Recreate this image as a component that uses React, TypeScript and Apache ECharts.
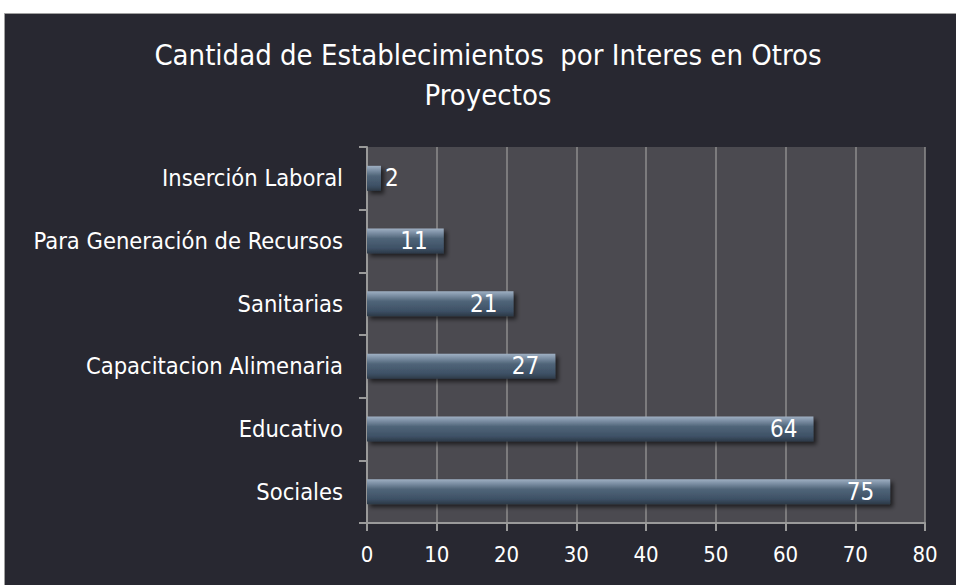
import React, { useEffect, useRef } from "react";
import * as echarts from "echarts";

const categories = [
  "Inserción Laboral",
  "Para Generación de Recursos",
  "Sanitarias",
  "Capacitacion Alimenaria",
  "Educativo",
  "Sociales",
];
const values = [2, 11, 21, 27, 64, 75];
const titleText = "Cantidad de Establecimientos  por Interes en Otros\nProyectos";

const FONT = "'Liberation Sans Narrow', 'DejaVu Sans Condensed', 'Roboto', sans-serif";

export default function App() {
  const ref = useRef<HTMLDivElement>(null);
  useEffect(() => {
    if (!ref.current) return;
    const chart = echarts.init(ref.current, null, { renderer: "svg" });
    const barColor = new echarts.graphic.LinearGradient(0, 0, 0, 1, [
      { offset: 0, color: "#9fb0c3" },
      { offset: 0.18, color: "#7b8ea3" },
      { offset: 0.4, color: "#506579" },
      { offset: 0.8, color: "#3d5065" },
      { offset: 1, color: "#2c3947" },
    ]);
    chart.setOption({
      animation: false,
      backgroundColor: "#ffffff",
      graphic: [
        {
          type: "rect",
          z: -10,
          shape: { x: 4.5, y: 13.5, width: 960, height: 580 },
          style: { fill: "#282831", stroke: "#a0a0a0", lineWidth: 1 },
        },
      ],
      title: {
        text: titleText,
        left: 483,
        textAlign: "center",
        top: 30,
        textStyle: {
          color: "#ffffff",
          fontFamily: FONT,
          fontSize: 29,
          fontWeight: "normal",
          lineHeight: 40,
        },
      },
      grid: {
        left: 367,
        right: 31,
        top: 147,
        bottom: 62,
        show: true,
        backgroundColor: "#4b4a50",
        borderWidth: 0,
      },
      xAxis: {
        type: "value",
        min: 0,
        max: 80,
        interval: 10,
        axisLine: { show: true, lineStyle: { color: "#9a9a9a", width: 2 } },
        axisTick: { show: true, length: 8, lineStyle: { color: "#9a9a9a", width: 2 } },
        splitLine: { show: true, lineStyle: { color: "#8c8c8c", width: 1.5 } },
        axisLabel: { color: "#ffffff", fontFamily: FONT, fontSize: 22, margin: 20 },
      },
      yAxis: {
        type: "category",
        data: categories,
        inverse: true,
        axisLine: { show: true, lineStyle: { color: "#9a9a9a", width: 2 } },
        axisTick: { show: true, length: 8, lineStyle: { color: "#9a9a9a", width: 2 } },
        axisLabel: { color: "#ffffff", fontFamily: FONT, fontSize: 23.5, margin: 24 },
      },
      series: [
        {
          type: "bar",
          barWidth: 25,
          data: values.map((v) => ({
            value: v,
            label: v < 5 ? { position: "right", distance: 4 } : { position: "insideRight", distance: 16 },
          })),
          itemStyle: {
            color: barColor,
            shadowBlur: 4,
            shadowColor: "rgba(0,0,0,0.6)",
            shadowOffsetX: 3,
            shadowOffsetY: 3,
          },
          label: {
            show: true,
            color: "#ffffff",
            fontFamily: FONT,
            fontSize: 24,
          },
        },
      ],
    });
    return () => chart.dispose();
  }, []);
  return (
    <div
      ref={ref}
      style={{ position: "fixed", left: 0, top: 0, width: 956, height: 585 }}
    />
  );
}
